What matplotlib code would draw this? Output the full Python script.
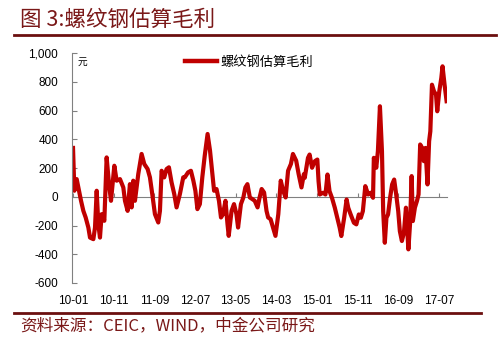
import matplotlib
matplotlib.use("Agg")
import matplotlib.pyplot as plt
from matplotlib.lines import Line2D

# x = months since 2010-01, y = 元/吨
months = [0, 0.33, 0.9, 1.47, 1.97, 2.54, 3.11, 3.77, 4.18, 5.0, 5.41, 5.82, 6.22, 6.63, 7.04, 7.7,
          8.27, 8.85, 9.34, 10.16, 10.73, 11.55, 12.37, 12.78, 13.43, 14.0, 14.41, 14.82, 15.23,
          16.05, 16.87, 17.53, 18.35, 18.92, 19.49, 20.15, 20.97, 21.38, 21.79, 22.44, 23.01,
          23.59, 24.24, 24.9, 25.47, 26.29, 27.11,
          27.5, 28.3, 29.0, 29.6, 30.1, 30.6, 31.2, 31.8, 32.4, 33.1, 33.7, 34.2, 34.7, 35.3,
          35.9, 36.4, 36.9, 37.5, 38.0, 38.3, 39.0, 39.6, 40.2, 40.6, 41.3, 41.9, 42.4, 42.9,
          43.5, 44.1, 44.7, 45.4, 45.9, 46.4, 47.0, 47.6, 48.0, 48.6, 49.2, 49.8, 50.5, 51.1,
          51.7, 52.3, 52.9, 53.6, 54.1, 54.9, 55.5, 56.2, 56.8,
          57.0, 57.8, 58.2, 58.8, 59.5, 60.1, 60.4, 60.7, 61.5, 62.1, 62.6, 63.1, 63.7, 64.4,
          65.0, 65.6, 66.0, 66.7, 67.3, 67.7, 68.3, 69.1, 69.7, 70.3, 70.8, 71.3, 71.9, 72.6,
          73.2, 73.8, 74.0, 74.6, 75.0, 75.5, 76.0, 76.3, 76.7, 77.1, 77.5, 78.0, 78.5, 79.0,
          79.5, 80.0, 80.4, 80.9, 81.4, 81.9, 82.5, 82.9, 83.3, 83.6, 84.1, 84.6, 85.0, 85.4,
          85.9, 86.3, 86.7, 87.2, 87.6, 87.9, 88.3, 88.8, 89.3, 89.6, 90.1, 90.6, 90.9, 91.4, 91.9]
margin = [340, 42, 123, 42, -28, -98, -144, -214, -284, -295, -214, 42, -190, -284, -121, -167,
          274, 88, -28, 216, 112, 123, 65, -28, -98, 88, -74, 112, -28,
          158, 298, 228, 193, 135, 19, -121, -179, -98, 181, 135, 193,
          205, 100, 19, -74, 19, 135,
          135, 170, 181, 112, 42, -86, -51, 135, 286, 437, 321, 181, 42, 54,
          -28, -144, -121, -28, -190, -272, -98, -51, -121, -214, -51, -5, 65, 88,
          -5, -16, -28, -74, -5, 54, 30, -98, -144, -156, -214, -272, -121, 112,
          42, -5, 181, 228, 298, 251, 158, 65, 158,
          132, 271, 294, 202, 248, 259, 109, 16, 28, 16, 155, 39, -7, -76,
          -146, -215, -273, -146, -19, -76, -123, -181, -192, -123, -146, -100, 74, 16,
          28, -7, 271, 202, 317, 630, 317, -100, -320, -146, -123, -7, 86, 120,
          16, -100, -239, -308, -250, -76, -366, -192, 144, -169, -76, -30, 16, 364,
          340, 248, 340, 86, 387, 456, 780, 734, 711, 595, 734, 827, 908, 780, 665]

tick_pos = [0, 10, 20, 30, 40, 50, 60, 70, 80, 90]
tick_lab = ["10-01", "10-11", "11-09", "12-07", "13-05", "14-03", "15-01", "15-11", "16-09", "17-07"]
yticks = [-600, -400, -200, 0, 200, 400, 600, 800, 1000]

RED = "#C00000"
DARK = "#7A1818"
CJK = ["Noto Sans CJK SC", "DejaVu Sans"]
plt.rcParams["font.family"] = ["Liberation Sans", "DejaVu Sans"]

fig = plt.figure(figsize=(4.98, 3.54), dpi=100)
ax = fig.add_axes([0.1446, 0.2006, 0.7530, 0.6494])

ax.plot(months, margin, color=RED, lw=3, solid_joinstyle="round")
ax.set_xlim(-0.25, 92)
ax.set_ylim(-600, 1000)

ax.set_yticks(yticks)
ax.set_yticklabels([f"{v:,}" for v in yticks], fontsize=8.5)
ax.tick_params(axis="y", direction="in", length=3.5, color="#808080", pad=10)
ax.set_xticks(tick_pos)
ax.set_xticklabels(tick_lab, fontsize=8.5)
ax.tick_params(axis="x", length=0, pad=9)
for s in ["top", "right", "bottom"]:
    ax.spines[s].set_visible(False)
ax.spines["left"].set_color("#808080")

# zero axis with upward ticks
zax = ax.secondary_xaxis(0.375)
zax.set_xticks(tick_pos)
zax.set_xticklabels([])
zax.tick_params(direction="in", length=3, color="#808080")
zax.spines["bottom"].set_color("#808080")

ax.text(0.016, 0.985, "元", transform=ax.transAxes, fontsize=7, family=CJK, va="top", ha="left")

h = Line2D([], [], color=RED, lw=3.2)
ax.legend([h], ["螺纹钢估算毛利"], loc="upper left", bbox_to_anchor=(0.27, 1.04), frameon=False,
          handlelength=2.4, handletextpad=0.3, prop={"family": CJK, "size": 9.5})

# header / footer
fig.text(0.04, 0.945, "图 3:螺纹钢估算毛利", fontsize=15.5, color=DARK, family=CJK, style="italic",
         va="center", ha="left")
fig.add_artist(Line2D([0.028, 0.995], [0.901, 0.901], color="#6B0F0F", lw=2, transform=fig.transFigure))
fig.add_artist(Line2D([0.028, 0.966], [0.117, 0.117], color="#6B0F0F", lw=2, transform=fig.transFigure))
fig.text(0.04, 0.08, "资料来源：CEIC，WIND，中金公司研究", fontsize=12, color=DARK, family=CJK,
         style="italic", va="center", ha="left")

fig.savefig("out.png", dpi=100)
